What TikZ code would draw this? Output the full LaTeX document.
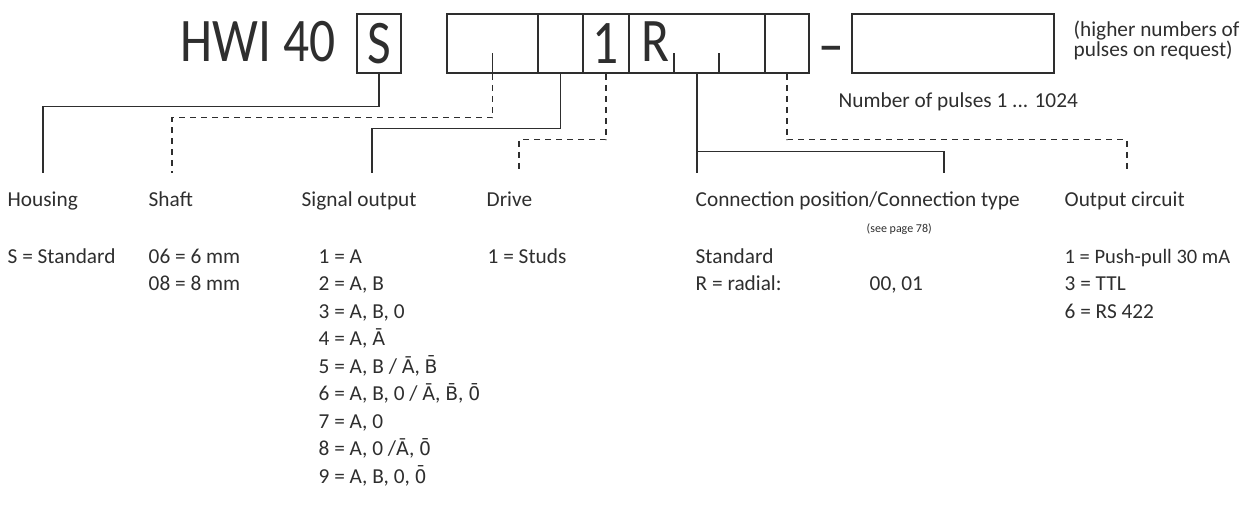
\documentclass[tikz,border=0pt]{standalone}
\usepackage{fontspec}
\usepackage{graphicx}
\setmainfont{Carlito}
\newfontfamily\markfont[Scale=0.88]{DejaVu Sans}
\newcommand{\inv}[1]{{\markfont #1}}
\definecolor{ink}{gray}{0.18}

\begin{document}
\begin{tikzpicture}[x=1pt, y=-1pt, line width=1.4pt, draw=ink, text=ink,
  cell/.style={draw, minimum height=59pt, inner sep=0pt, line width=1.6pt},
  big/.style={inner sep=0pt, font=\fontsize{62}{62}\selectfont},
  txt/.style={anchor=base west, inner sep=0pt, font=\fontsize{21.3}{26}\selectfont},
  small/.style={anchor=base west, inner sep=0pt, font=\fontsize{12}{14}\selectfont},
  dashline/.style={dash pattern=on 6pt off 5pt}]
\useasboundingbox (0,0) rectangle (1240,532);

% type code
\node[big, anchor=base west] (hwi) at (180,62) {\scalebox{0.83}[1]{HWI 40}};
\node[cell, big, minimum width=44pt] (cS) at (379,43.5) {\scalebox{0.83}[1]{S}};
\node[cell, minimum width=91pt] (c1) at (492.5,43.5) {};
\node[cell, minimum width=45pt] (c2) at (560.5,43.5) {};
\node[cell, big, minimum width=46pt] (c3) at (606,43.5) {\scalebox{0.83}[1]{1}};
\node[cell, minimum width=136pt] (cR) at (697,43.5) {};
\node[big, anchor=base west] (r) at (641,62) {\scalebox{0.83}[1]{R}};
\node[cell, minimum width=44pt] (c5) at (787,43.5) {};
\node[big, anchor=base] (dash) at (831,66) {\scalebox{0.83}[1]{–}};
\node[cell, minimum width=202pt] (cP) at (953,43.5) {};
\draw (c1.south) -- ++(0,-21);
\draw ([xshift=-23pt]cR.south) -- ++(0,-21);
\draw ([xshift=22pt]cR.south) -- ++(0,-21);

\node[txt] (note1) at (1073,37) {(higher numbers of};
\node[txt] (note2) at (1073,57) {pulses on request)};
\node[txt] (pulses) at (838,108) {Number of pulses 1 ... 1024};

% headings
\node[txt] (housing) at (7,207) {Housing};
\node[txt] (shaft) at (148,207) {Shaft};
\node[txt] (signal) at (301,207) {Signal output};
\node[txt] (drive) at (486,207) {Drive};
\node[txt] (conn) at (695,207) {Connection position/Connection type};
\node[small] (page) at (866,232) {(see page 78)};
\node[txt] (outc) at (1064,207) {Output circuit};

% line ends
\coordinate (eHousing) at (43,173);
\coordinate (eShaft) at (172,173);
\coordinate (eSignal) at (372,173);
\coordinate (eDrive) at (519,173);
\coordinate (eConn) at (697,173);
\coordinate (eType) at (944,173);
\coordinate (eOut) at (1127,173);

\draw (cS.south) -- ++(0,33) -| (eHousing);
\draw[dashline] (c1.south) -- ++(0,44) -| (eShaft);
\draw (c2.south) -- ++(0,55) -| (eSignal);
\draw[dashline] (c3.south) -- ++(0,66) -| (eDrive);
\draw (cR.south) -- (eConn);
\draw (cR.south) ++(0,78) -| (eType);
\draw[dashline] (c5.south) -- ++(0,66) -| (eOut);

% values
\node[txt] (h1) at (7,263) {S = Standard};
\node[txt] (sh1) at (148,263) {06 = 6 mm};
\node[txt] (sh2) at (148,290.5) {08 = 8 mm};
\node[txt] (s1) at (318,263) {1 = A};
\node[txt] (s2) at (318,290.5) {2 = A, B};
\node[txt] (s3) at (318,318) {3 = A, B, 0};
\node[txt] (s4) at (318,345.5) {4 = A, \inv{Ā}};
\node[txt] (s5) at (318,373) {5 = A, B / \inv{Ā}, \inv{B̄}};
\node[txt] (s6) at (318,400.5) {6 = A, B, 0 / \inv{Ā}, \inv{B̄}, \inv{0̄}};
\node[txt] (s7) at (318,428) {7 = A, 0};
\node[txt] (s8) at (318,455.5) {8 = A, 0 /\inv{Ā}, \inv{0̄}};
\node[txt] (s9) at (318,483) {9 = A, B, 0, \inv{0̄}};
\node[txt] (d1) at (487,263) {1 = Studs};
\node[txt] (c1t) at (695,263) {Standard};
\node[txt] (c2t) at (695,290.5) {R = radial:};
\node[txt] (c3t) at (869,290.5) {00, 01};
\node[txt, font=\fontsize{20.5}{26}\selectfont] (o1) at (1064,263) {1 = Push-pull 30 mA};
\node[txt] (o2) at (1064,290.5) {3 = TTL};
\node[txt] (o3) at (1064,318) {6 = RS 422};
\end{tikzpicture}
\end{document}
